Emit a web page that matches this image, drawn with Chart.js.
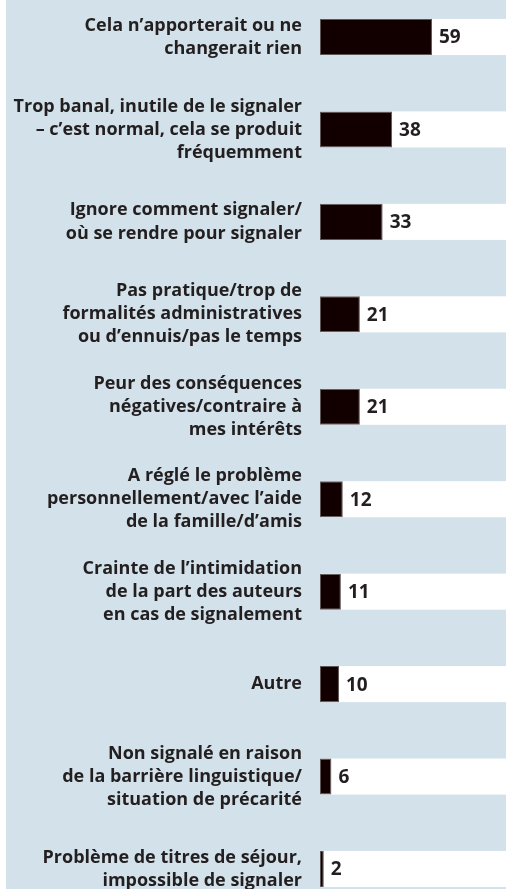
<!DOCTYPE html>
<html>
<head>
<meta charset="utf-8">
<script src="https://cdn.jsdelivr.net/npm/chart.js@4/dist/chart.umd.min.js"></script>
<style>
  html, body { margin: 0; padding: 0; background: #fff; overflow: hidden; }
  #wrap { position: absolute; left: 6px; top: 0; width: 500px; height: 889px; background: #d3e2ea; }
</style>
</head>
<body>
<div id="wrap"><canvas id="raisonsChart" width="500" height="889"></canvas></div>
<script>
// raisons de ne pas signaler (%)
var raisons = [
    ['Cela n’apporterait ou ne', 'changerait rien'],
    ['Trop banal, inutile de le signaler', '– c’est normal, cela se produit', 'fréquemment'],
    ['Ignore comment signaler/', 'où se rendre pour signaler'],
    ['Pas pratique/trop de', 'formalités administratives', 'ou d’ennuis/pas le temps'],
    ['Peur des conséquences', 'négatives/contraire à', 'mes intérêts'],
    ['A réglé le problème', 'personnellement/avec l’aide', 'de la famille/d’amis'],
    ['Crainte de l’intimidation', 'de la part des auteurs', 'en cas de signalement'],
    ['Autre'],
    ['Non signalé en raison', 'de la barrière linguistique/', 'situation de précarité'],
    ['Problème de titres de séjour,', 'impossible de signaler']
];
var pourcentages = [59, 38, 33, 21, 21, 12, 11, 10, 6, 2];

var police = '"Open Sans", "DejaVu Sans", sans-serif';
var texteCouleur = '#231f20';

// bande blanche derriere chaque barre, jusqu'au bord droit
var bandeBlanche = {
    id: 'bandeBlanche',
    beforeDatasetsDraw: function (chart) {
        var c = chart.ctx;
        var area = chart.chartArea;
        c.save();
        c.fillStyle = '#ffffff';
        chart.getDatasetMeta(0).data.forEach(function (bar) {
            var h = bar.height;
            c.fillRect(bar.base, bar.y - h / 2, area.right - bar.base, h);
        });
        c.restore();
    }
};

// valeur ecrite a droite de la barre
var valeurs = {
    id: 'valeurs',
    afterDatasetsDraw: function (chart) {
        var c = chart.ctx;
        c.save();
        c.font = 'bold 19px ' + police;
        c.fillStyle = texteCouleur;
        c.textAlign = 'left';
        c.textBaseline = 'middle';
        chart.getDatasetMeta(0).data.forEach(function (bar, i) {
            c.fillText(pourcentages[i], bar.x + 7, bar.y + 1);
        });
        c.restore();
    }
};

var ctx = document.getElementById('raisonsChart').getContext('2d');
var raisonsChart = new Chart(ctx, {
    type: 'bar',
    data: {
        labels: raisons,
        datasets: [{
            data: pourcentages,
            backgroundColor: '#120000',
            borderColor: '#5e5557',
            borderWidth: 1,
            borderSkipped: false,
            barPercentage: 0.39,
            categoryPercentage: 1
        }]
    },
    options: {
        indexAxis: 'y',
        responsive: false,
        animation: false,
        clip: false,
        layout: { padding: { top: 37, bottom: 20, left: 0, right: 0 } },
        plugins: {
            legend: { display: false },
            tooltip: { enabled: false }
        },
        scales: {
            x: {
                display: false,
                min: 0,
                max: 98
            },
            y: {
                offset: false,
                border: { display: false },
                grid: { display: false, drawTicks: false },
                afterFit: function (axis) {
                    axis.width = 314;
                    axis.paddingTop = 0;
                    axis.paddingBottom = 0;
                },
                ticks: {
                    padding: 18,
                    color: texteCouleur,
                    font: { family: police, size: 18, weight: 'bold', lineHeight: 1.28 }
                }
            }
        }
    },
    plugins: [bandeBlanche, valeurs]
});
</script>
</body>
</html>
